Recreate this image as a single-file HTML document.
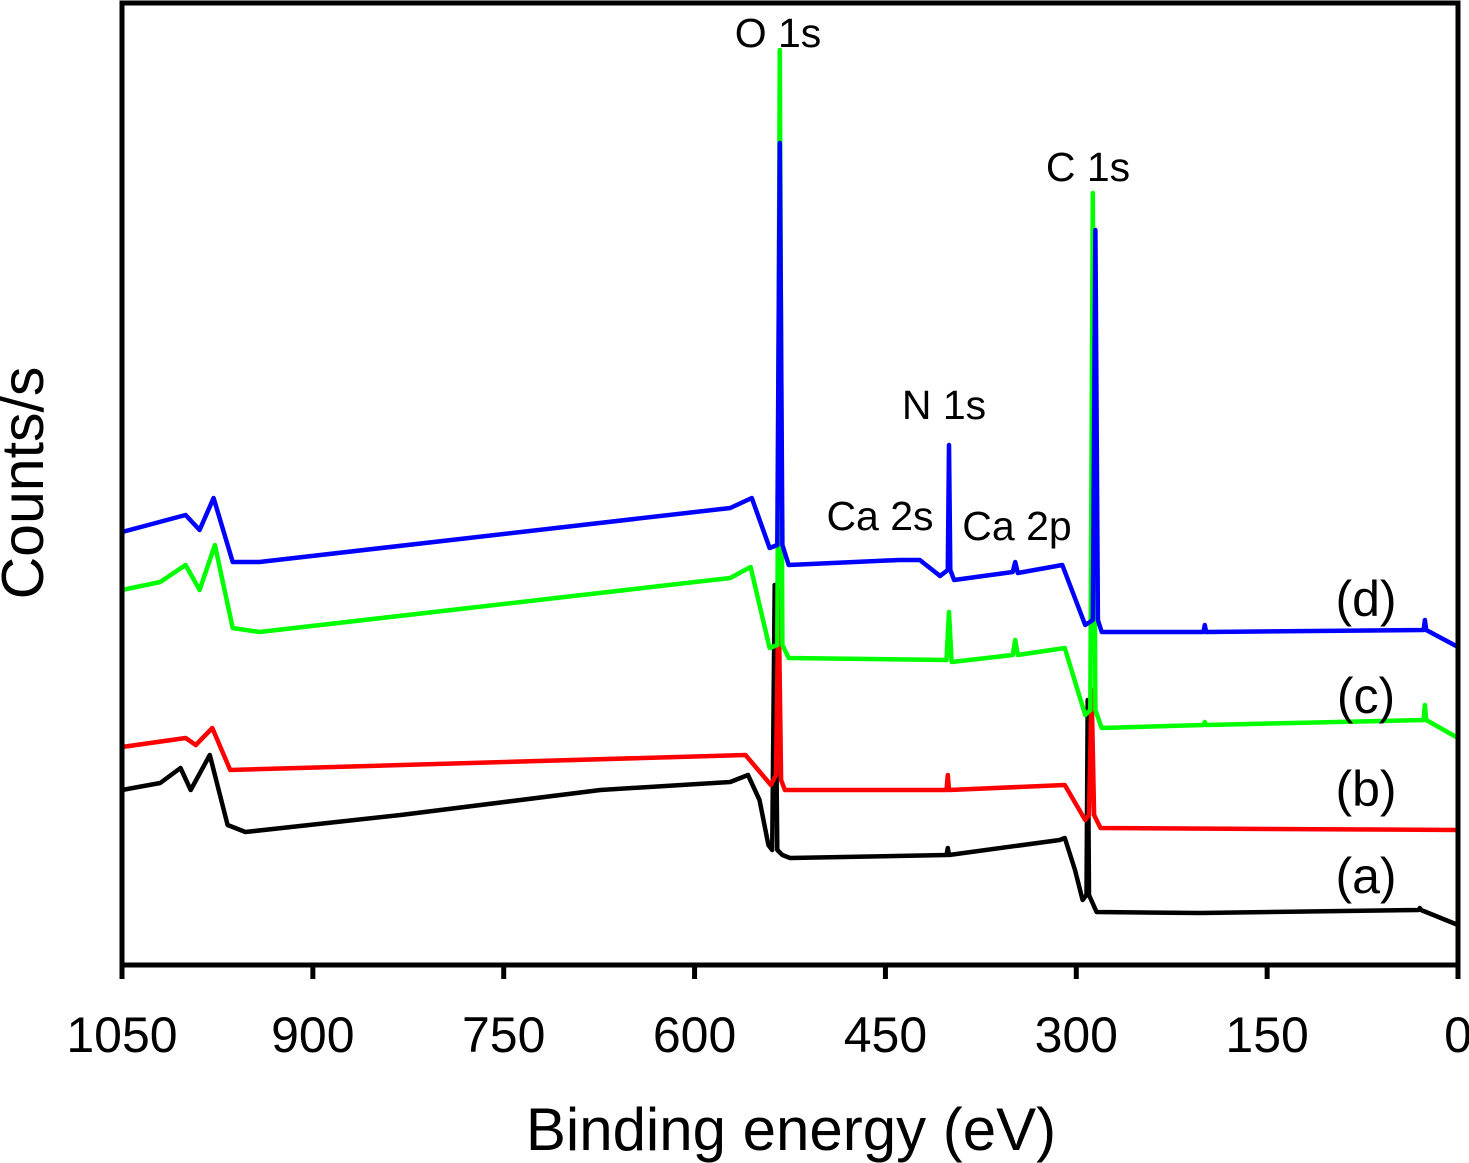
<!DOCTYPE html>
<html><head><meta charset="utf-8"><style>
html,body{margin:0;padding:0;background:#fff;}
svg{display:block;font-family:"Liberation Sans",Arial,sans-serif;}
</style></head><body>
<svg id="chart" width="1469" height="1163" viewBox="0 0 1469 1163" xmlns="http://www.w3.org/2000/svg">
<g id="series"></g>
<rect x="122" y="3" width="1336" height="962" fill="none" stroke="#000" stroke-width="5"/>
<g id="ticks"></g>
<text x="791" y="1150" font-size="60" text-anchor="middle">Binding energy (eV)</text>
<text transform="translate(43,483) rotate(-90)" font-size="59" text-anchor="middle">Counts/s</text>
<g font-size="41" fill="#000">
<text x="778" y="47" text-anchor="middle">O 1s</text>
<text x="1088" y="181" text-anchor="middle">C 1s</text>
<text x="944" y="419" text-anchor="middle">N 1s</text>
<text x="880" y="530" text-anchor="middle">Ca 2s</text>
<text x="1017" y="540" text-anchor="middle">Ca 2p</text>
<text x="1366" y="616" text-anchor="middle" font-size="50">(d)</text>
<text x="1366" y="713" text-anchor="middle" font-size="50">(c)</text>
<text x="1366" y="806" text-anchor="middle" font-size="50">(b)</text>
<text x="1366" y="893" text-anchor="middle" font-size="50">(a)</text>
</g>
</svg>
<script>
const xTicks=[1050,900,750,600,450,300,150,0];
const energyA=[1050,1020,1004,996,981,967,953,831,674,572,558,549,542,539,537,535,531,525,402,401,400,313,309,301,295,292,291,290,284,203,31,30,29,0];
const countsA=[175,182,197,175,210,140,133,150,175,183,190,165,120,115,380,115,110,107,110,117,110,125,127,95,65,70,265,70,53,52,55,57,55,40];
const energyB=[1050,1000,992,979,965,560,540,536,534,532,529,402,401,400,309,293,290,288,286,281,0];
const countsB=[218,227,220,237,195,210,180,190,375,185,175,175,190,175,180,145,150,275,150,137,135];
const energyC=[1050,1020,1000,989,977,963,942,572,556,541,535,533,531,526,402,400,398,350,348,346,309,293,289,287,285,280,200,199,198,27,26,25,0];
const countsC=[375,383,400,375,420,337,333,387,398,317,320,915,320,307,305,353,303,310,325,310,317,250,255,772,255,237,240,243,240,245,260,245,227];
const energyD=[1050,1000,989,978,963,942,572,555,541,535,533,531,526,439,423,407,401,400,399,396,350,348,346,311,293,287,285,283,280,200,199,198,27,26,25,0];
const countsD=[433,450,435,467,403,403,457,467,417,420,822,420,400,405,405,389,395,520,395,385,393,403,392,400,340,345,735,345,333,333,340,333,335,345,335,318];
const X0=122,X1=1458,Y0=965;
function xs(e){return X0+(1050-e)*(X1-X0)/1050;}
function ys(v){return Y0-v;}
const svgNS="http://www.w3.org/2000/svg";
const g=document.getElementById('series');
function draw(E,C,color,name){
  const p=document.createElementNS(svgNS,'polyline');
  p.setAttribute('points',E.map((e,i)=>xs(e).toFixed(1)+','+ys(C[i]).toFixed(1)).join(' '));
  p.setAttribute('fill','none');p.setAttribute('stroke',color);p.setAttribute('stroke-width','4.5');
  p.setAttribute('stroke-linejoin','round');
  
  
  g.appendChild(p);
}
draw(energyA,countsA,'#000000','series-a');
draw(energyB,countsB,'#ff0000','series-b');
draw(energyC,countsC,'#00ff00','series-c');
draw(energyD,countsD,'#0000ff','series-d');
const t=document.getElementById('ticks');
xTicks.forEach(v=>{
  const l=document.createElementNS(svgNS,'line');
  l.setAttribute('x1',xs(v));l.setAttribute('x2',xs(v));l.setAttribute('y1',965);l.setAttribute('y2',979);
  l.setAttribute('stroke','#000');l.setAttribute('stroke-width','5');
  
  
  t.appendChild(l);
  const tx=document.createElementNS(svgNS,'text');
  tx.setAttribute('x',xs(v));tx.setAttribute('y',1052);tx.setAttribute('font-size','50');tx.setAttribute('text-anchor','middle');
  tx.textContent=v;
  
  
  t.appendChild(tx);
});
</script>
</body></html>
